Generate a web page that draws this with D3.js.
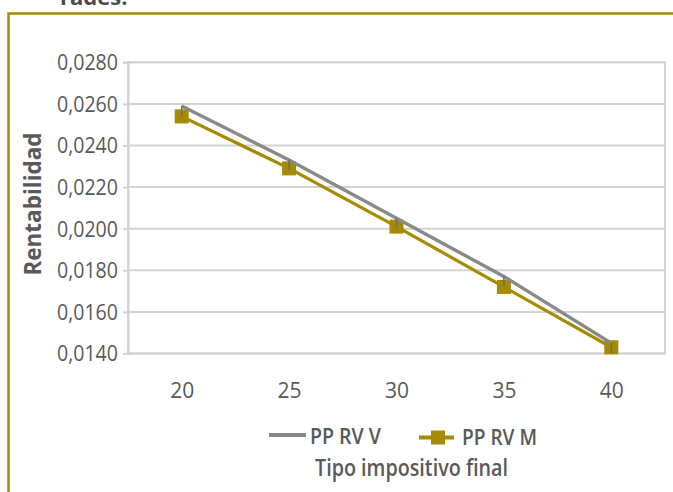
<!DOCTYPE html>
<html>
<head>
<meta charset="utf-8">
<script src="https://cdn.jsdelivr.net/npm/d3@7"></script>
<style>
  html, body { margin: 0; padding: 0; background: #fff; }
  svg { display: block; }
  text { font-family: "Open Sans", "Noto Sans", sans-serif; }
</style>
</head>
<body>
<svg id="chart" width="673" height="492"></svg>
<script>
// Tipo impositivo final (categories)
const tipos = ["20", "25", "30", "35", "40"];
// Rentabilidad por serie
const ppRvV = [0.0259, 0.0233, 0.0205, 0.0177, 0.0145];
const ppRvM = [0.0254, 0.0229, 0.0201, 0.0172, 0.0143];
const seriesNames = ["PP RV V", "PP RV M"];
const yTicks = [0.0140, 0.0160, 0.0180, 0.0200, 0.0220, 0.0240, 0.0260, 0.0280];

const svg = d3.select("#chart");
const gold = "#a68a00";
const grayLine = "#898989";
const grid = "#d3d3d3";
const labelColor = "#595959";

// Heading above the frame (runs off the top of the page)
svg.append("text")
  .attr("x", 60).attr("y", 5)
  .attr("font-size", 22).attr("font-weight", 700)
  .attr("fill", "#4a4a4a")
  .text("rades.");

// Gold frame (top and left edges, running off the page)
svg.append("path")
  .attr("d", "M8.5,500 V13.5 H700")
  .attr("fill", "none")
  .attr("stroke", gold)
  .attr("stroke-width", 2.5);

const plot = { left: 128, right: 665, top: 62.3, bottom: 353.5 };

const x = d3.scalePoint()
  .domain(tipos)
  .range([plot.left, plot.right])
  .padding(0.5);

const y = d3.scaleLinear()
  .domain([0.014, 0.028])
  .range([plot.bottom, plot.top]);

const esLocale = d3.formatLocale({ decimal: ",", thousands: ".", grouping: [3], currency: ["", "€"] });
const fmt = esLocale.format(".4f");

// Horizontal gridlines
svg.append("g")
  .selectAll("line")
  .data(yTicks)
  .join("line")
  .attr("x1", plot.left).attr("x2", plot.right)
  .attr("y1", d => y(d)).attr("y2", d => y(d))
  .attr("stroke", grid).attr("stroke-width", 2);

// Plot area border
svg.append("rect")
  .attr("x", plot.left).attr("y", plot.top)
  .attr("width", plot.right - plot.left)
  .attr("height", plot.bottom - plot.top)
  .attr("fill", "none")
  .attr("stroke", grid).attr("stroke-width", 2);

// Y axis
const yAxis = svg.append("g")
  .attr("transform", `translate(${plot.left},0)`)
  .call(d3.axisLeft(y).tickValues(yTicks).tickFormat(fmt).tickSize(5).tickPadding(5));
yAxis.select(".domain").attr("stroke", grid).attr("stroke-width", 2);
yAxis.selectAll(".tick line").attr("stroke", grid).attr("stroke-width", 2);
yAxis.selectAll(".tick text")
  .attr("font-size", 21)
  .attr("font-family", "'Open Sans', sans-serif")
  .attr("fill", labelColor)
  .attr("dy", "0.35em")
  .attr("textLength", 61)
  .attr("lengthAdjust", "spacingAndGlyphs");

// X axis labels
const xAxis = svg.append("g")
  .attr("transform", `translate(0,${plot.bottom})`)
  .call(d3.axisBottom(x).tickSize(0).tickPadding(0));
xAxis.select(".domain").remove();
xAxis.selectAll(".tick text")
  .attr("font-size", 21)
  .attr("font-family", "'Open Sans', sans-serif")
  .attr("fill", labelColor)
  .attr("y", 44)
  .attr("dy", 0);

// Y axis title
svg.append("text")
  .attr("transform", "translate(41,204) rotate(-90)")
  .attr("text-anchor", "middle")
  .attr("font-size", 22.5).attr("font-weight", 700)
  .attr("fill", labelColor)
  .text("Rentabilidad");

const line = d3.line()
  .x((d, i) => x(tipos[i]))
  .y(d => y(d));

// PP RV M series (gold, square markers)
svg.append("path")
  .datum(ppRvM)
  .attr("d", line)
  .attr("fill", "none")
  .attr("stroke", gold)
  .attr("stroke-width", 3.2)
  .attr("stroke-linejoin", "round");
svg.append("g")
  .selectAll("rect")
  .data(ppRvM)
  .join("rect")
  .attr("x", (d, i) => x(tipos[i]) - 7)
  .attr("y", d => y(d) - 7)
  .attr("width", 14).attr("height", 14)
  .attr("fill", gold);

// PP RV V series (gray, thin vertical markers)
svg.append("path")
  .datum(ppRvV)
  .attr("d", line)
  .attr("fill", "none")
  .attr("stroke", grayLine)
  .attr("stroke-width", 3.4)
  .attr("stroke-linejoin", "round");
svg.append("g")
  .selectAll("line")
  .data(ppRvV)
  .join("line")
  .attr("x1", (d, i) => x(tipos[i])).attr("x2", (d, i) => x(tipos[i]))
  .attr("y1", d => y(d)).attr("y2", d => y(d) + 10)
  .attr("stroke", "#6e6e6e").attr("stroke-width", 1.6);

// Legend
const legend = svg.append("g");
legend.append("line")
  .attr("x1", 269).attr("x2", 306).attr("y1", 435).attr("y2", 435)
  .attr("stroke", grayLine).attr("stroke-width", 4);
legend.append("text")
  .attr("x", 310).attr("y", 444)
  .attr("font-size", 21).attr("font-weight", 600)
  .attr("fill", labelColor)
  .attr("textLength", 71).attr("lengthAdjust", "spacingAndGlyphs")
  .text(seriesNames[0]);

legend.append("line")
  .attr("x1", 419).attr("x2", 454).attr("y1", 437.5).attr("y2", 437.5)
  .attr("stroke", gold).attr("stroke-width", 4);
legend.append("rect")
  .attr("x", 431).attr("y", 430.5).attr("width", 14).attr("height", 14)
  .attr("fill", gold);
legend.append("text")
  .attr("x", 462).attr("y", 445)
  .attr("font-size", 21).attr("font-weight", 600)
  .attr("fill", labelColor)
  .attr("textLength", 75).attr("lengthAdjust", "spacingAndGlyphs")
  .text(seriesNames[1]);

// X axis title
svg.append("text")
  .attr("x", 315).attr("y", 476)
  .attr("font-size", 23).attr("font-weight", 600)
  .attr("fill", labelColor)
  .attr("textLength", 193).attr("lengthAdjust", "spacingAndGlyphs")
  .text("Tipo impositivo final");
</script>
</body>
</html>
